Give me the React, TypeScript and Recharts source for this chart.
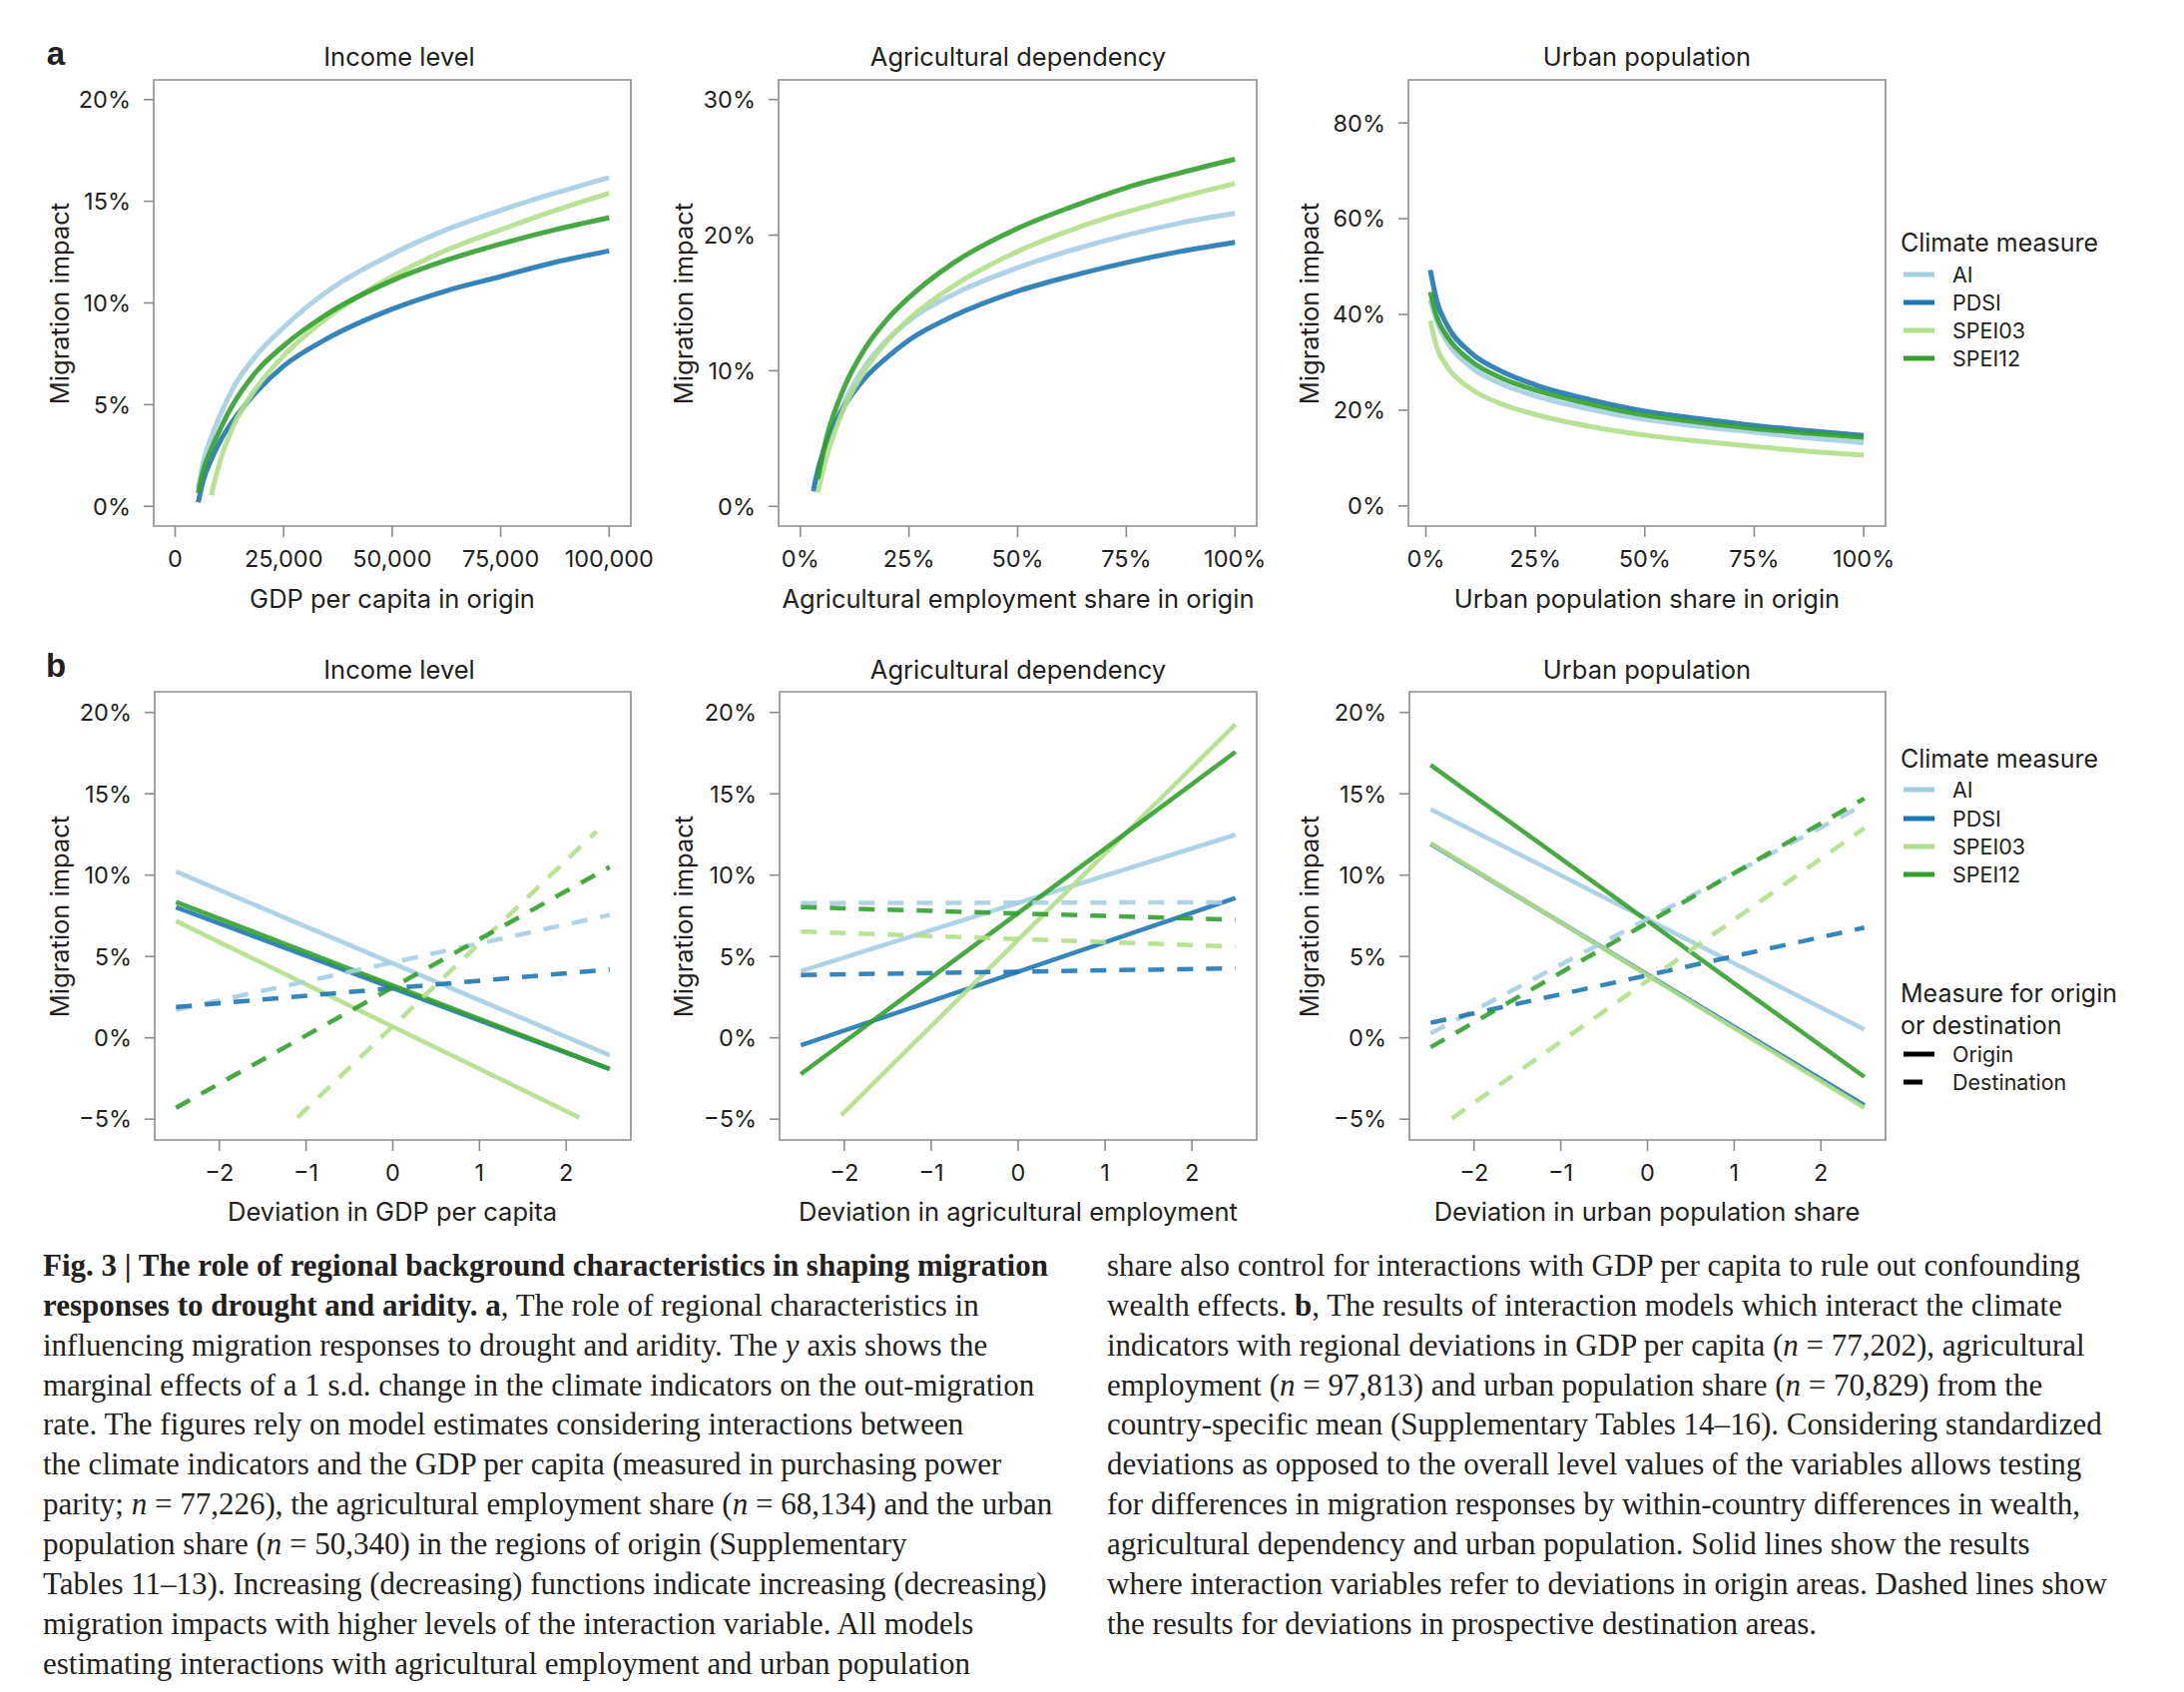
import React from "react";
import { LineChart, Line, XAxis, YAxis, ReferenceArea } from "recharts";

const FONT = "Inter, Roboto, 'Liberation Sans', Arial, sans-serif";
const SERIF = "'Liberation Serif', 'DejaVu Serif', serif";
const INK = "#231f20";
const FRAME = "#8c8c8c";

const climateMeasures = ["AI", "PDSI", "SPEI03", "SPEI12"];
const measureColors = ["#a6cee3", "#1f78b4", "#b2df8a", "#33a02c"];

// a, income level (GDP per capita in origin)
const gdpX = [5300, 6500, 8300, 10600, 13300, 18600, 25000, 34600, 50000, 62500, 75000, 87500, 100000];
const gdpAI = [0.9, 2.2, 3.4, 4.6, 5.8, 7.4, 8.8, 10.5, 12.4, 13.6, 14.55, 15.4, 16.17];
const gdpPDSI = [0.2, 1.3, 2.3, 3.3, 4.2, 5.6, 6.9, 8.2, 9.7, 10.6, 11.3, 12.0, 12.56];
const gdpSPEI03 = [null, null, 0.55, 2.4, 3.9, 5.8, 7.4, 9.2, 11.3, 12.6, 13.6, 14.55, 15.4];
const gdpSPEI12 = [0.65, 1.8, 2.8, 3.9, 5.0, 6.6, 7.9, 9.4, 11.1, 12.1, 12.9, 13.6, 14.2];

// a, agricultural employment share in origin (%)
const agrX = [3, 4, 6, 10, 15, 20, 25, 35, 50, 62.5, 75, 87.5, 100];
const agrAI = [1.3, 2.6, 4.6, 7.6, 10.4, 12.3, 13.7, 15.6, 17.6, 18.9, 20.0, 20.9, 21.6];
const agrPDSI = [1.1, 2.6, 4.7, 7.3, 9.5, 11.0, 12.26, 14.0, 15.87, 17.0, 17.97, 18.8, 19.47];
const agrSPEI03 = [null, 1.0, 3.6, 7.2, 10.1, 12.2, 13.8, 16.2, 18.8, 20.4, 21.7, 22.8, 23.8];
const agrSPEI12 = [null, 2.0, 5.0, 8.7, 11.7, 13.8, 15.4, 17.9, 20.5, 22.1, 23.5, 24.6, 25.6];

// a, urban population share in origin (%)
const urbX = [1, 2.5, 5, 10, 17.5, 25, 37.5, 50, 62.5, 75, 87.5, 100];
const urbAI = [43.0, 38.5, 34.0, 29.2, 25.4, 23.0, 20.2, 18.1, 16.6, 15.4, 14.2, 13.2];
const urbPDSI = [49.3, 42.8, 37.5, 32.2, 28.0, 25.3, 22.2, 19.8, 18.2, 16.8, 15.7, 14.7];
const urbSPEI03 = [38.7, 33.1, 28.9, 24.65, 21.2, 19.1, 16.6, 14.8, 13.5, 12.4, 11.4, 10.6];
const urbSPEI12 = [44.7, 39.5, 35.2, 30.5, 26.6, 24.2, 21.3, 19.0, 17.5, 16.2, 15.2, 14.3];

// b, deviations (s.d.) — end points of each fitted line
const devX = [-2.5, 2.5];
const incOriginAI = [10.22, -1.07];
const incOriginPDSI = [8.03, -1.92];
const incOriginSPEI03X = [-2.5, 2.15];
const incOriginSPEI03 = [7.18, -4.9];
const incOriginSPEI12 = [8.35, -1.92];
const incDestAI = [1.72, 7.55];
const incDestPDSI = [1.89, 4.2];
const incDestSPEI03X = [-1.1, 2.35];
const incDestSPEI03 = [-4.9, 12.69];
const incDestSPEI12 = [-4.3, 10.5];

const agdOriginAI = [4.1, 12.48];
const agdOriginPDSI = [-0.46, 8.59];
const agdOriginSPEI03X = [-2.035, 2.5];
const agdOriginSPEI03 = [-4.76, 19.27];
const agdOriginSPEI12 = [-2.23, 17.57];
const agdDestAI = [8.28, 8.33];
const agdDestPDSI = [3.86, 4.27];
const agdDestSPEI03 = [6.53, 5.61];
const agdDestSPEI12 = [8.03, 7.26];

const updOriginAI = [14.05, 0.51];
const updOriginPDSI = [11.92, -4.15];
const updOriginSPEI03 = [11.97, -4.3];
const updOriginSPEI12 = [16.77, -2.4];
const updDestAI = [0.27, 14.34];
const updDestPDSI = [0.92, 6.77];
const updDestSPEI03X = [-2.254, 2.5];
const updDestSPEI03 = [-4.95, 12.89];
const updDestSPEI12 = [-0.58, 14.71];

const gdpTicks = [0, 25000, 50000, 75000, 100000];
const shareTicks = [0, 25, 50, 75, 100];
const devTicks = [-2, -1, 0, 1, 2];
const gdpImpactTicks = [0, 5, 10, 15, 20];
const agrImpactTicks = [0, 10, 20, 30];
const urbImpactTicks = [0, 20, 40, 60, 80];
const devImpactTicks = [-5, 0, 5, 10, 15, 20];

type Pt = { x: number; y: number };
type Series = { key: string; color: string; data: Pt[]; dashed?: boolean };

const toPoints = (xs: number[], ys: (number | null)[]): Pt[] =>
  xs
    .map((x, i) => ({ x, y: ys[i] as number }))
    .filter((p) => p.y !== null && p.y !== undefined);

const minus = (v: number) => (v < 0 ? "\u2212" + Math.abs(v) : String(v));
const pct = (v: number) => minus(v) + "%";

const levelSeries = (ys: (number | null)[][], xs: number[]): Series[] =>
  ys.map((y, i) => ({ key: climateMeasures[i], color: measureColors[i], data: toPoints(xs, y) }));

const devSeries = (origin: [number[], number[]][], dest: [number[], number[]][]): Series[] => [
  ...origin.map(([xs, ys], i) => ({
    key: "o" + climateMeasures[i],
    color: measureColors[i],
    data: toPoints(xs, ys),
  })),
  ...dest.map(([xs, ys], i) => ({
    key: "d" + climateMeasures[i],
    color: measureColors[i],
    data: toPoints(xs, ys),
    dashed: true,
  })),
];

type Box = { left: number; top: number; w: number; h: number };

function Panel(props: {
  box: Box;
  xDomain: [number, number];
  yDomain: [number, number];
  xTicks: number[];
  yTicks: number[];
  xFmt: (v: number) => string;
  yFmt: (v: number) => string;
  series: Series[];
  lineWidth: number;
  curved?: boolean;
}) {
  const { box, xDomain, yDomain, xTicks, yTicks, xFmt, yFmt, series, lineWidth, curved } = props;
  const yAxisW = 110;
  const top = 12;
  const right = 60;
  const xAxisH = 90;
  const tickStyle = { fontSize: 23.5, fill: INK, fontFamily: FONT };
  return (
    <div style={{ position: "absolute", left: box.left - yAxisW, top: box.top - top }}>
      <LineChart
        width={yAxisW + box.w + right}
        height={top + box.h + xAxisH}
        margin={{ top, right, left: 0, bottom: 0 }}
      >
        <XAxis
          type="number"
          dataKey="x"
          domain={xDomain}
          ticks={xTicks}
          interval={0}
          allowDataOverflow
          tickFormatter={xFmt}
          height={xAxisH}
          axisLine={false}
          tickLine={{ stroke: FRAME, strokeWidth: 1.6 }}
          tickSize={11}
          tickMargin={13}
          tick={tickStyle}
        />
        <YAxis
          type="number"
          domain={yDomain}
          ticks={yTicks}
          interval={0}
          allowDataOverflow
          tickFormatter={yFmt}
          width={yAxisW}
          axisLine={false}
          tickLine={{ stroke: FRAME, strokeWidth: 1.6 }}
          tickSize={10}
          tickMargin={13}
          tick={tickStyle}
        />
        <ReferenceArea
          x1={xDomain[0]}
          x2={xDomain[1]}
          y1={yDomain[0]}
          y2={yDomain[1]}
          fill="none"
          stroke={FRAME}
          strokeWidth={1.6}
          ifOverflow="visible"
        />
        {series.map((s) => (
          <Line
            key={s.key}
            data={s.data}
            dataKey="y"
            type={curved ? "monotone" : "linear"}
            stroke={s.color}
            strokeOpacity={0.9}
            strokeWidth={lineWidth}
            strokeDasharray={s.dashed ? "16 13" : undefined}
            dot={false}
            activeDot={false}
            isAnimationActive={false}
          />
        ))}
      </LineChart>
    </div>
  );
}

const centered = (x: number, y: number, size: number, extra: React.CSSProperties = {}): React.CSSProperties => ({
  position: "absolute",
  left: x,
  top: y,
  transform: "translate(-50%, -50%)",
  fontSize: size,
  fontFamily: FONT,
  color: INK,
  whiteSpace: "nowrap",
  lineHeight: 1,
  ...extra,
});

function YTitle({ x, y }: { x: number; y: number }) {
  return (
    <div style={centered(x, y, 25.5, { transform: "translate(-50%, -50%) rotate(-90deg)" })}>Migration impact</div>
  );
}

function LegendRow({ y, color, label, dashLen }: { y: number; color: string; label: string; dashLen?: number }) {
  return (
    <>
      <svg style={{ position: "absolute", left: 1907, top: y - 5 }} width={32} height={10}>
        <line x1={0} y1={5} x2={dashLen ?? 31} y2={5} stroke={color} strokeWidth={5} />
      </svg>
      <div style={{ position: "absolute", left: 1956, top: y - 12, fontSize: 21.5, lineHeight: "24px", fontFamily: FONT, color: INK, whiteSpace: "nowrap" }}>
        {label}
      </div>
    </>
  );
}

function LegendTitle({ y, text }: { y: number; text: string }) {
  return (
    <div style={{ position: "absolute", left: 1904, top: y - 14, fontSize: 25, lineHeight: "28px", fontFamily: FONT, color: INK, whiteSpace: "nowrap" }}>
      {text}
    </div>
  );
}

const leftCaption: React.ReactNode[] = [
  <b>Fig. 3 | The role of regional background characteristics in shaping migration</b>,
  <>
    <b>responses to drought and aridity. a</b>, The role of regional characteristics in
  </>,
  <>
    influencing migration responses to drought and aridity. The <i>y</i> axis shows the
  </>,
  "marginal effects of a 1 s.d. change in the climate indicators on the out-migration",
  "rate. The figures rely on model estimates considering interactions between",
  "the climate indicators and the GDP per capita (measured in purchasing power",
  <>
    parity; <i>n</i> = 77,226), the agricultural employment share (<i>n</i> = 68,134) and the urban
  </>,
  <>
    population share (<i>n</i> = 50,340) in the regions of origin (Supplementary
  </>,
  "Tables 11\u201313). Increasing (decreasing) functions indicate increasing (decreasing)",
  "migration impacts with higher levels of the interaction variable. All models",
  "estimating interactions with agricultural employment and urban population",
];

const rightCaption: React.ReactNode[] = [
  "share also control for interactions with GDP per capita to rule out confounding",
  <>
    wealth effects. <b>b</b>, The results of interaction models which interact the climate
  </>,
  <>
    indicators with regional deviations in GDP per capita (<i>n</i> = 77,202), agricultural
  </>,
  <>
    employment (<i>n</i> = 97,813) and urban population share (<i>n</i> = 70,829) from the
  </>,
  "country-specific mean (Supplementary Tables 14\u201316). Considering standardized",
  "deviations as opposed to the overall level values of the variables allows testing",
  "for differences in migration responses by within-country differences in wealth,",
  "agricultural dependency and urban population. Solid lines show the results",
  "where interaction variables refer to deviations in origin areas. Dashed lines show",
  "the results for deviations in prospective destination areas.",
];

const captionLineY = [1268, 1308, 1348, 1388, 1427, 1467, 1507, 1547, 1587, 1627, 1667];

function Caption({ lines, left }: { lines: React.ReactNode[]; left: number }) {
  return (
    <>
      {lines.map((ln, i) => (
        <div
          key={i}
          style={{
            position: "absolute",
            left,
            top: captionLineY[i] - 20,
            fontSize: 31,
            lineHeight: "40px",
            fontFamily: SERIF,
            color: INK,
            whiteSpace: "nowrap",
          }}
        >
          {ln}
        </div>
      ))}
    </>
  );
}

export default function App() {
  const gdpLevel = levelSeries([gdpAI, gdpPDSI, gdpSPEI03, gdpSPEI12], gdpX);
  const agrLevel = levelSeries([agrAI, agrPDSI, agrSPEI03, agrSPEI12], agrX);
  const urbLevel = levelSeries([urbAI, urbPDSI, urbSPEI03, urbSPEI12], urbX);

  const incDev = devSeries(
    [
      [devX, incOriginAI],
      [devX, incOriginPDSI],
      [incOriginSPEI03X, incOriginSPEI03],
      [devX, incOriginSPEI12],
    ],
    [
      [devX, incDestAI],
      [devX, incDestPDSI],
      [incDestSPEI03X, incDestSPEI03],
      [devX, incDestSPEI12],
    ]
  );
  const agdDev = devSeries(
    [
      [devX, agdOriginAI],
      [devX, agdOriginPDSI],
      [agdOriginSPEI03X, agdOriginSPEI03],
      [devX, agdOriginSPEI12],
    ],
    [
      [devX, agdDestAI],
      [devX, agdDestPDSI],
      [devX, agdDestSPEI03],
      [devX, agdDestSPEI12],
    ]
  );
  const updDev = devSeries(
    [
      [devX, updOriginAI],
      [devX, updOriginPDSI],
      [devX, updOriginSPEI03],
      [devX, updOriginSPEI12],
    ],
    [
      [devX, updDestAI],
      [devX, updDestPDSI],
      [updDestSPEI03X, updDestSPEI03],
      [devX, updDestSPEI12],
    ]
  );

  const devDomain: [number, number] = [-2.745, 2.745];
  const devImpactDomain: [number, number] = [-6.28, 21.27];
  const gdpFmt = (v: number) => v.toLocaleString("en-US");

  return (
    <div style={{ position: "relative", width: 2188, height: 1695, background: "#fff", overflow: "hidden" }}>
      <style>{"body{margin:0;background:#fff}"}</style>

      {/* row a */}
      <div style={centered(56, 53, 33, { fontWeight: 700, fontFamily: "'Liberation Sans', Arial, sans-serif" })}>a</div>
      <div style={centered(400, 57, 25.5)}>Income level</div>
      <div style={centered(1020, 57, 25.5)}>Agricultural dependency</div>
      <div style={centered(1650, 57, 25.5)}>Urban population</div>

      <Panel
        box={{ left: 154, top: 80, w: 478, h: 447 }}
        xDomain={[-4950, 105000]}
        yDomain={[-0.97, 20.97]}
        xTicks={gdpTicks}
        yTicks={gdpImpactTicks}
        xFmt={gdpFmt}
        yFmt={pct}
        series={gdpLevel}
        lineWidth={5}
        curved
      />
      <Panel
        box={{ left: 780, top: 80, w: 479, h: 447 }}
        xDomain={[-5, 105]}
        yDomain={[-1.45, 31.45]}
        xTicks={shareTicks}
        yTicks={agrImpactTicks}
        xFmt={pct}
        yFmt={pct}
        series={agrLevel}
        lineWidth={5}
        curved
      />
      <Panel
        box={{ left: 1411, top: 80, w: 478, h: 447 }}
        xDomain={[-4, 105]}
        yDomain={[-4.2, 89]}
        xTicks={shareTicks}
        yTicks={urbImpactTicks}
        xFmt={pct}
        yFmt={pct}
        series={urbLevel}
        lineWidth={5}
        curved
      />

      <YTitle x={60} y={304} />
      <YTitle x={685} y={304} />
      <YTitle x={1312} y={304} />
      <div style={centered(393, 600, 25.5)}>GDP per capita in origin</div>
      <div style={centered(1020, 600, 25.5)}>Agricultural employment share in origin</div>
      <div style={centered(1650, 600, 25.5)}>Urban population share in origin</div>

      <LegendTitle y={243} text="Climate measure" />
      {climateMeasures.map((m, i) => (
        <LegendRow key={m} y={[275, 303, 331, 359][i]} color={measureColors[i]} label={m} />
      ))}

      {/* row b */}
      <div style={centered(56, 666, 33, { fontWeight: 700, fontFamily: "'Liberation Sans', Arial, sans-serif" })}>b</div>
      <div style={centered(400, 671, 25.5)}>Income level</div>
      <div style={centered(1020, 671, 25.5)}>Agricultural dependency</div>
      <div style={centered(1650, 671, 25.5)}>Urban population</div>

      <Panel
        box={{ left: 155, top: 693, w: 477, h: 449 }}
        xDomain={devDomain}
        yDomain={devImpactDomain}
        xTicks={devTicks}
        yTicks={devImpactTicks}
        xFmt={minus}
        yFmt={pct}
        series={incDev}
        lineWidth={4.5}
      />
      <Panel
        box={{ left: 781, top: 693, w: 478, h: 449 }}
        xDomain={devDomain}
        yDomain={devImpactDomain}
        xTicks={devTicks}
        yTicks={devImpactTicks}
        xFmt={minus}
        yFmt={pct}
        series={agdDev}
        lineWidth={4.5}
      />
      <Panel
        box={{ left: 1412, top: 693, w: 477, h: 449 }}
        xDomain={devDomain}
        yDomain={devImpactDomain}
        xTicks={devTicks}
        yTicks={devImpactTicks}
        xFmt={minus}
        yFmt={pct}
        series={updDev}
        lineWidth={4.5}
      />

      <YTitle x={60} y={918} />
      <YTitle x={685} y={918} />
      <YTitle x={1312} y={918} />
      <div style={centered(393, 1214, 25.5)}>Deviation in GDP per capita</div>
      <div style={centered(1020, 1214, 25.5)}>Deviation in agricultural employment</div>
      <div style={centered(1650, 1214, 25.5)}>Deviation in urban population share</div>

      <LegendTitle y={760} text="Climate measure" />
      {climateMeasures.map((m, i) => (
        <LegendRow key={m} y={[791, 820, 848, 876][i]} color={measureColors[i]} label={m} />
      ))}
      <LegendTitle y={995} text="Measure for origin" />
      <LegendTitle y={1027} text="or destination" />
      <LegendRow y={1056} color="#000" label="Origin" />
      <LegendRow y={1084} color="#000" label="Destination" dashLen={19} />

      {/* caption */}
      <Caption lines={leftCaption} left={43} />
      <Caption lines={rightCaption} left={1109} />
    </div>
  );
}
